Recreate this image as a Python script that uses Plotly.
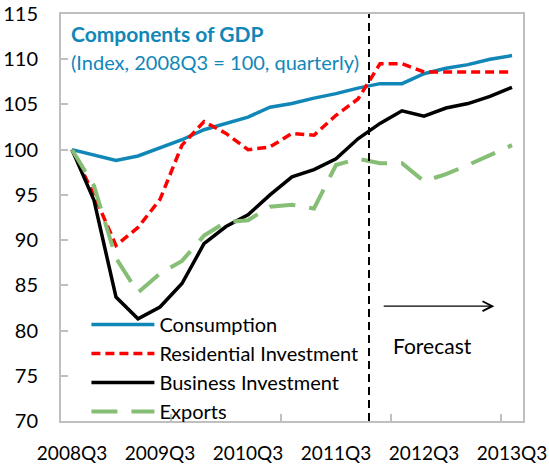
import plotly.graph_objects as go

quarters = ["2008Q3", "2008Q4", "2009Q1", "2009Q2", "2009Q3", "2009Q4", "2010Q1",
            "2010Q2", "2010Q3", "2010Q4", "2011Q1", "2011Q2", "2011Q3", "2011Q4",
            "2012Q1", "2012Q2", "2012Q3", "2012Q4", "2013Q1", "2013Q2", "2013Q3"]

consumption = [100.0, 99.4, 98.8, 99.3, 100.2, 101.1, 102.2, 102.9, 103.6, 104.7, 105.1,
               105.7, 106.2, 106.8, 107.3, 107.3, 108.4, 109.0, 109.4, 110.0, 110.4]
residential = [100.0, 95.0, 89.4, 91.4, 94.5, 100.5, 103.1, 101.8, 100.0, 100.3, 101.8,
               101.6, 103.8, 105.6, 109.5, 109.5, 108.6, 108.6, 108.6, 108.6, 108.6]
business = [100.0, 94.4, 83.7, 81.3, 82.6, 85.2, 89.6, 91.5, 92.8, 95.0, 97.0,
            97.8, 99.0, 101.2, 102.9, 104.3, 103.7, 104.6, 105.1, 105.9, 106.9]
exports = [100.0, 96.0, 88.0, 84.2, 86.3, 87.7, 90.5, 92.0, 92.2, 93.7, 93.9,
           93.5, 98.3, 99.0, 98.5, 98.5, 96.5, 97.3, 98.3, 99.4, 100.5]

series_names = ["Consumption", "Residential Investment", "Business Investment", "Exports"]
label_quarters = quarters[::4]
forecast_start = "2012Q1"

FONT = "Lato"
x = list(range(len(quarters)))

fig = go.Figure()
styles = [
    (consumption, "#1187B8", "solid", 3.5),
    (residential, "#FF0000", "9px,5px", 3.5),
    (business, "#000000", "solid", 3.5),
    (exports, "#85BE74", "26px,14px", 4),
]
for name, (vals, color, dash, w) in zip(series_names, styles):
    fig.add_trace(go.Scatter(x=x, y=vals, mode="lines", name=name,
                             line=dict(color=color, dash=dash, width=w)))

fs = quarters.index(forecast_start) - 0.5
fig.add_shape(type="line", xref="x", yref="paper", x0=fs, x1=fs, y0=0, y1=1,
              line=dict(color="black", width=2, dash="8px,5px"))

fig.add_annotation(x=19.2, y=82.7, ax=14.1, ay=82.7, xref="x", yref="y", axref="x", ayref="y",
                   text="", showarrow=True, arrowhead=5, arrowsize=1.6, arrowwidth=1.2,
                   arrowcolor="black")
fig.add_annotation(x=16.4, y=78.3, xref="x", yref="y", text="Forecast", showarrow=False,
                   font=dict(family=FONT, size=21, color="black"))

fig.add_annotation(x=0, y=1, xref="paper", yref="paper", xanchor="left", yanchor="top",
                   xshift=8, yshift=-5, align="left", showarrow=False,
                   text="<b>Components of GDP</b>",
                   font=dict(family=FONT, size=21, color="#1187B8"))
fig.add_annotation(x=0, y=1, xref="paper", yref="paper", xanchor="left", yanchor="top",
                   xshift=8, yshift=-34, align="left", showarrow=False,
                   text="(Index, 2008Q3 = 100, quarterly)",
                   font=dict(family=FONT, size=20, color="#1187B8"))

fig.update_layout(
    width=549, height=466,
    margin=dict(l=61, r=26, t=14, b=45),
    paper_bgcolor="white", plot_bgcolor="white",
    font=dict(family=FONT, size=18, color="black"),
    showlegend=True,
    legend=dict(x=0.055, y=0.285, xanchor="left", yanchor="top", bgcolor="rgba(0,0,0,0)",
                font=dict(family=FONT, size=20, color="black"), itemwidth=63,
                tracegroupgap=0),
    xaxis=dict(range=[-0.5, len(quarters) - 0.5], tickmode="array",
               tickvals=[quarters.index(q) for q in label_quarters], ticktext=label_quarters,
               ticks="", showgrid=False, zeroline=False, automargin=False,
               ticklabelstandoff=14,
               showline=True, linecolor="#BFBFBF", linewidth=2, mirror=True,
               tickfont=dict(family=FONT, size=19, color="black"),
               minor=dict(tickvals=[4.5, 9.5, 14.5, 19.5], ticks="inside", ticklen=7,
                          tickcolor="#BFBFBF", tickwidth=2, showgrid=False)),
    yaxis=dict(range=[70, 115], dtick=5, tick0=70, ticks="inside", ticklen=7,
               tickcolor="#BFBFBF", tickwidth=2, showgrid=False, zeroline=False,
               automargin=False, ticklabelstandoff=17,
               showline=True, linecolor="#BFBFBF", linewidth=2, mirror=True,
               tickfont=dict(family=FONT, size=20, color="black")),
)

fig.write_html("out.html", post_script="document.body.style.margin='0';",
               config={"displayModeBar": False})
